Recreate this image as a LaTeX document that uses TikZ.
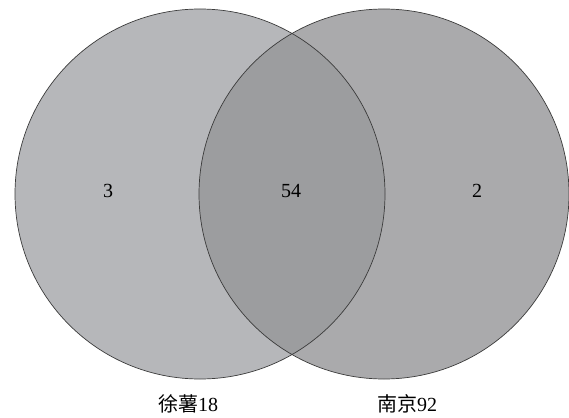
\documentclass[tikz,border=0pt]{standalone}
\usepackage{fontspec}
\setmainfont{Liberation Serif}
\newfontfamily\cjk{Noto Sans CJK SC}
\definecolor{leftgray}{RGB}{182,183,186}
\definecolor{rightgray}{RGB}{170,170,172}
\definecolor{midgray}{RGB}{156,157,159}
\definecolor{edgegray}{RGB}{60,60,60}
\tikzset{
  settext/.style={font=\fontsize{20}{22}\selectfont, inner sep=0pt},
  setlabel/.style={font=\fontsize{20}{22}\selectfont, inner sep=0pt},
  ring/.style={draw=edgegray, line width=0.7pt}
}
\begin{document}
\begin{tikzpicture}[x=1pt,y=-1pt]
\useasboundingbox (0,0) rectangle (569,417);
\fill[white] (0,0) rectangle (569,417);
\coordinate (cl) at (200,194);
\coordinate (cr) at (384,194);
\fill[leftgray] (cl) circle[radius=185];
\fill[rightgray] (cr) circle[radius=185];
\begin{scope}
  \clip (cl) circle[radius=185];
  \fill[midgray] (cr) circle[radius=185];
\end{scope}
\draw[ring] (cl) circle[radius=185];
\draw[ring] (cr) circle[radius=185];
\node[settext] (nl) at (108,191) {3};
\node[settext] (nm) at (291,191) {54};
\node[settext] (nr) at (477,191) {2};
\node[setlabel] (ll) at (188,404) {{\cjk 徐薯}18};
\node[setlabel] (lr) at (407,404) {{\cjk 南京}92};
\end{tikzpicture}
\end{document}
